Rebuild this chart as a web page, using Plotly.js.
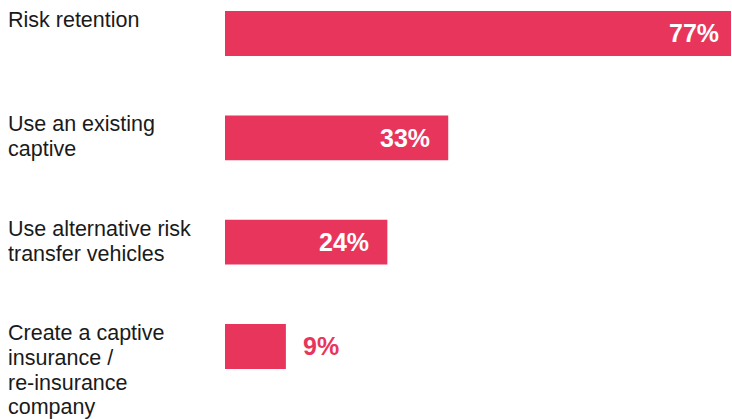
<!DOCTYPE html>
<html>
<head>
<meta charset="utf-8">
<script src="https://cdn.plot.ly/plotly-3.0.1.min.js"></script>
<style>html,body{margin:0;padding:0;background:#fff;}#chart{width:732px;height:419px;}</style>
</head>
<body>
<div id="chart"></div>
<script>
var categories = ["Risk retention", "Use an existing<br>captive", "Use alternative risk<br>transfer vehicles", "Create a captive<br>insurance /<br>re-insurance<br>company"];
var values = [77, 33, 24, 9];
var valueLabels = ["77%", "33%", "24%", "9%"];

var barColor = "#E8355C";
var xMax = 74.8;
var barWidth = 0.43;
var idx = categories.map(function(_, i){ return i; });

var trace = {
  type: "bar",
  orientation: "h",
  x: values,
  y: idx,
  width: barWidth,
  marker: {color: barColor},
  hoverinfo: "none",
  cliponaxis: true
};

var labelFont = {family: "Liberation Sans, Arial, sans-serif", size: 21.5, color: "#1a1a1a"};
var lineStep = 24.8;

var annotations = [];
categories.forEach(function(c, i){
  c.split("<br>").forEach(function(line, k){
    annotations.push({
      xref: "paper", yref: "y",
      x: 0, y: i - barWidth/2,
      xanchor: "left", yanchor: "middle", align: "left",
      xshift: -219,
      yshift: -9 - k * lineStep,
      text: line, showarrow: false,
      font: labelFont
    });
  });
  var inside = values[i] >= 15;
  var xv = Math.min(values[i], xMax);
  annotations.push({
    xref: "x", yref: "y",
    x: xv, y: i,
    xanchor: inside ? "right" : "left", yanchor: "middle",
    xshift: inside ? (values[i] > xMax ? -10 : -16) : 15,
    text: "<b>" + valueLabels[i] + "</b>", showarrow: false,
    font: {family: "Liberation Sans, Arial, sans-serif", size: 25, color: inside ? "#ffffff" : barColor}
  });
});

var layout = {
  width: 732, height: 419,
  margin: {l: 225, r: 1, t: 0, b: 0},
  paper_bgcolor: "#ffffff", plot_bgcolor: "#ffffff",
  showlegend: false,
  xaxis: {range: [0, xMax], visible: false, fixedrange: true},
  yaxis: {range: [3.695, -0.321], visible: false, fixedrange: true},
  annotations: annotations
};

Plotly.newPlot("chart", [trace], layout, {displayModeBar: false, staticPlot: true});
</script>
</body>
</html>
